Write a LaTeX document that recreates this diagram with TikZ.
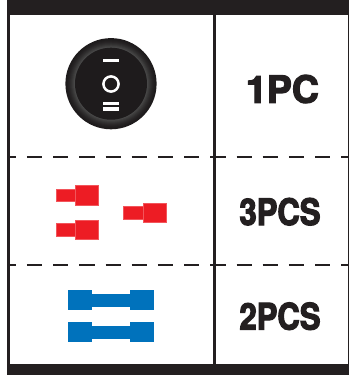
\documentclass[tikz,border=0pt]{standalone}
\usepackage{fontspec}
\newfontfamily\heavy[FakeBold=3.2]{TeX Gyre Heros Bold}
\newfontfamily\heavynarrow[FakeBold=3.2,FakeStretch=0.85]{TeX Gyre Heros Bold}
\definecolor{ink}{HTML}{231F20}
\definecolor{knobdark}{HTML}{1E1B1C}
\definecolor{knobrim}{HTML}{474747}
\definecolor{termred}{HTML}{ED1C24}
\definecolor{termblue}{HTML}{0072BC}
\tikzset{
  x=1pt,y=-1pt,
  bar/.style={fill=ink,draw=none},
  rule/.style={draw=ink,line width=3pt},
  dashrule/.style={draw=ink,line width=2.2pt,dash pattern=on 15.3pt off 10.9pt,dash phase=9.3pt},
  qty/.style={inner sep=0pt,text=ink,anchor=base},
  red part/.style={fill=termred,draw=termred!75,line width=0.4pt},
  blue part/.style={fill=termblue,draw=none},
  mark bar/.style={fill=white,draw=none}
}
\newcommand{\redterm}[2]{%
  \path[red part] (#1-19.5,#2-6.2) rectangle (#1,#2+6.2);
  \path[red part] (#1,#2-9.8) rectangle (#1+23.3,#2+9.8);
}
\newcommand{\blueterm}[1]{%
  \path[blue part] (68,#1-10) rectangle (92,#1+10);
  \path[blue part] (130,#1-10) rectangle (154,#1+10);
  \path[blue part] (92,#1-6.5) rectangle (130,#1+6.5);
}
\begin{document}
\begin{tikzpicture}
\useasboundingbox (0,0) rectangle (349,375);
\fill[white] (0,0) rectangle (349,375);
% frame
\path[bar] (7,0) rectangle (349,14.5);
\path[bar] (7,364) rectangle (349,375);
\path[rule,line width=2.5pt] (8.5,14) -- (8.5,364);
\path[rule,line width=1.2pt] (348.4,14) -- (348.4,364);
\path[rule] (214.5,14) -- (214.5,364);
% dashes
\path[dashrule] (10,157.3) -- (349,157.3);
\path[dashrule] (10,265.3) -- (349,265.3);
% switch
\foreach \r/\m in {45.6/0,44/6,43/14,42/24,41/36,40/50,39/66,38/82,37/100}
  \fill[knobrim!\m!knobdark] (111,83.7) circle (\r);
\fill[knobdark] (111,83.7) circle (36);
\path[mark bar] (103,58.8) rectangle (119,62);
\draw[white,line width=2.5pt] (111,84) circle (7.6);
\path[mark bar] (103,102) rectangle (119,105.2);
\path[mark bar] (103,107.3) rectangle (119,110.5);
% red terminals
\redterm{75.3}{195.3}
\redterm{75.3}{229.8}
\redterm{143}{212.7}
% blue terminals
\blueterm{300}
\blueterm{332}
% labels
\node[qty,font=\heavy\fontsize{37.5}{38}\selectfont] (a) at (282.5,102.7) {1PC};
\node[qty,font=\heavynarrow\fontsize{36.5}{38}\selectfont] (b) at (280,225) {3PCS};
\node[qty,font=\heavynarrow\fontsize{36.5}{38}\selectfont] (c) at (280,329.5) {2PCS};
\end{tikzpicture}
\end{document}
